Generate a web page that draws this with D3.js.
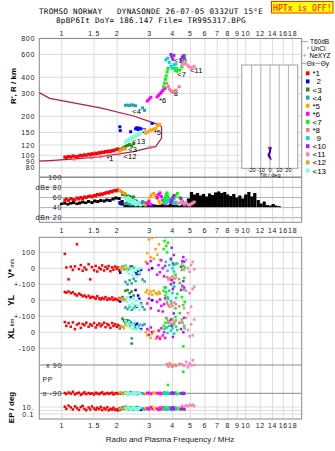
<!DOCTYPE html>
<html>
<head>
<meta charset="utf-8">
<script src="https://cdn.jsdelivr.net/npm/d3@7"></script>
<style>
  body { margin: 0; background: #fff; }
  svg { display: block; }
  text { font-family: "Liberation Sans", Arial, sans-serif; }
</style>
</head>
<body>
<svg id="chart"></svg>
<script>
// ionogram values
const titleLines = [
  "TROMSO NORWAY   DYNASONDE 26-07-05 0332UT 15°E",
  "8pBP6It DoY= 186.147 File= TR995317.BPG",
];
const freqTicks = [1, 1.5, 2, 3, 4, 5, 6, 7, 8, 9, 10, 12, 14, 16, 18];
const heightTicks = [80, 90, 100, 120, 150, 200, 300, 400, 600, 800];
const dbTicks = [100, 80, 60, 40, 20];
const dbTickNames = ["100", "dBe 80", "60", "40", "dBn 20"];
const velTicks = [100, 0, -100, -200, -300, -400, -500];
const velTickNames = ["100", "0", "+-100", "0", "+-100", "0", "-100"];
const tiltTicks = [-20, -10, 0, 10, 20];

const modeNames = ["*1", "2", "<3", "<4", "*5", "*6", "<7", "*8", "9", "<10", "<11", "<12", "<13"];
const modeColors = ["#ff0000", "#0000ff", "#228b22", "#20a8a8", "#ffa500", "#ff00ff", "#00ff00",
  "#f08080", "#00d8d8", "#a020f0", "#ff80c0", "#daa520", "#7fffd4"];
// label anchors [MHz, km]
const modeLabelAt = [[1.75, 95], [2.74, 158], [2.3, 112], [2.42, 219], [3.17, 150], [3.38, 266],
  [4.25, 423], [3.92, 304], [4.08, 465], [4.08, 548], [4.99, 458], [2.17, 98], [2.42, 128]];

// echoes: [MHz, km, dB, V*, YL, XL, PP deg, EP deg]
const mode1 = [
  [1.04, 97, 55, 90, 52, 64, -88, 12], [1.06, 96, 57, 5, 48, 40, -95, 3],
  [1.09, 98, 54, -69, 55, 58, -85, 25], [1.12, 97, 58, 10, 45, 35, -92, 8],
  [1.15, 99, 56, -10, 50, 62, -80, 2], [1.18, 98, 55, 12, 38, 20, -97, 15],
  [1.21, 97, 59, 150, 30, 48, -90, 5], [1.24, 99, 57, -5, 42, 55, -86, 1.5],
  [1.27, 100, 60, 20, 35, 28, -100, 9], [1.30, 99, 58, -15, 25, 52, -92, 20],
  [1.33, 101, 61, 5, 30, 44, -84, 3], [1.36, 100, 60, -8, 20, 60, -95, 1.2],
  [1.40, 102, 62, 25, 28, 35, -88, 7], [1.43, 101, 63, -69, 15, 50, -93, 2],
  [1.46, 103, 61, 8, 22, 42, -90, 14], [1.50, 102, 64, -12, 18, 58, -98, 4],
  [1.53, 104, 63, 15, 10, 30, -86, 1.6], [1.56, 103, 66, -20, 25, 45, -91, 6],
  [1.60, 105, 65, 3, 12, 55, -95, 2.5], [1.63, 104, 67, -6, 5, 38, -89, 11],
  [1.66, 106, 66, 18, 15, 48, -84, 1.3], [1.70, 105, 68, -14, 8, 60, -96, 5],
  [1.73, 107, 69, 9, 20, 32, -92, 2], [1.77, 106, 70, -3, 3, 52, -88, 8],
  [1.80, 108, 69, 14, 12, 44, -94, 1.1], [1.84, 107, 72, -18, 6, 28, -90, 3],
  [1.88, 109, 71, 6, 18, 58, -86, 1.8], [1.91, 108, 73, -9, 2, 40, -97, 6],
  [1.95, 110, 74, 11, 10, 50, -91, 1.4], [1.99, 111, 73, -4, 5, 34, -88, 2.2],
  [2.02, 112, 75, 7, 0, 46, -93, 1], [2.06, 111, 74, -12, 14, 38, -90, 4],
];
const mode2 = [
  [2.07, 166, 50, -15, 5, 25, -88, 4], [2.08, 155, 48, -28, -8, 35, -92, 2],
  [2.37, 152, 52, 10, 20, 60, -85, 7], [2.52, 160, 53, -25, 64, 45, -90, 3],
  [2.56, 163, 51, -40, -40, 54, -95, 9], [2.60, 158, 50, -20, 30, 30, -87, 2],
  [2.64, 162, 46, -35, 10, 50, -92, 5], [2.70, 160, 48, -10, -20, 20, -89, 1.5],
  [3.10, 176, 44, 0, 0, 0, -90, 3],
];
const mode3 = [
  [2.14, 113, 66, 10, 20, 85, -88, 8], [2.18, 115, 68, -5, 5, 70, -92, 3],
  [2.22, 117, 65, 15, 60, 62, -86, 12], [2.28, 119, 63, 0, 64, 75, -95, 5],
  [2.34, 121, 62, -8, 45, 40, -90, 2], [2.40, 118, 60, 12, 55, -70, -93, 9],
  [2.46, 123, 61, 5, 30, 50, -87, 4],
];
const mode4 = [
  [2.22, 243, 48, -85, -45, 75, -90, 5], [2.28, 244, 50, -100, -55, 60, -86, 2],
  [2.34, 242, 47, -75, -40, 70, -94, 8], [2.40, 245, 46, -95, -60, -38, -89, 3],
  [2.46, 243, 49, -65, -50, 45, -92, 1.5], [2.52, 241, 45, -80, -35, 30, -88, 6],
  [2.75, 232, 52, -70, -42, 44, -91, 4], [2.82, 222, 50, -82, -58, 50, -95, 2],
];
const mode5 = [
  [2.86, 148, 45, 41, 50, 0, -92, 5], [2.92, 150, 50, 95, 64, -20, -86, 2],
  [2.98, 154, 55, 180, 40, 10, -95, 8], [3.04, 156, 62, 70, 55, -35, -89, 3],
  [3.10, 157, 66, 190, 35, -10, -93, 12], [3.16, 159, 68, 60, 60, 5, -85, 2],
  [3.24, 161, 64, 120, 45, -40, -90, 6], [3.31, 169, 58, 85, 38, -25, -88, 4],
  [3.38, 171, 52, 150, 52, 12, -94, 1.5], [3.42, 173, 48, 52, 42, -30, -91, 7],
];
const mode6 = [
  [2.92, 262, 48, 30, -20, 20, -90, 4], [2.98, 270, 52, -10, 10, -15, -86, 2],
  [3.05, 280, 46, 45, -50, 30, -94, 8], [3.30, 282, 60, -40, -10, -30, -88, 3],
  [3.36, 290, 66, 20, -65, 10, -92, 1.5], [3.42, 298, 69, -25, 5, -40, -87, 6],
  [3.48, 305, 62, 50, -35, 25, -95, 2], [3.54, 315, 55, 0, -70, -20, -90, 9],
  [3.60, 325, 50, -50, -25, 0, -85, 4], [3.65, 330, 47, 15, 12, -35, -93, 2],
];
const mode7 = [
  [3.58, 338, 50, 120, 60, 40, -90, 5], [3.62, 360, 55, 170, 80, 20, -86, 2],
  [3.66, 385, 60, 195, 30, 60, -94, 8], [3.70, 410, 66, 140, 50, 90, -88, 3],
  [3.74, 440, 69, 100, -20, 30, -92, 1.5], [3.78, 467, 62, 160, 10, 70, -37, 6],
  [4.08, 470, 58, 20, 85, 50, -90, 2], [4.15, 450, 64, -40, -50, 95, -85, 9],
  [4.25, 445, 68, 30, 40, 14, -95, 4], [4.38, 455, 60, -92, -80, 60, -89, 2],
  [4.50, 480, 52, -10, 20, 80, -91, 5], [4.58, 510, 48, 15, -30, -88, 47, 3],
  [4.63, 550, 46, -60, 65, 40, -87, 7], [4.66, 590, 45, 5, -10, 25, -93, 2],
];
const mode8 = [
  [3.73, 359, 50, -55, -10, 85, 95, 3], [3.80, 340, 52, -70, -30, 60, 80, 6],
  [3.86, 322, 55, -60, -40, 70, 100, 2], [3.94, 312, 53, -73, -20, 55, 88, 5],
  [4.00, 309, 50, -52, -35, 80, 78, 2], [4.10, 312, 48, -65, -15, 65, 92, 4],
  [4.18, 318, 51, -58, -25, 75, 85, 3], [4.35, 338, 49, -68, -38, 58, 96, 6],
];
const mode9 = [
  [3.68, 544, 50, 40, 80, 30, -90, 4], [3.76, 560, 54, -15, 20, -5, -86, 2],
  [3.84, 520, 57, 20, 60, 40, -94, 7], [3.92, 487, 55, 52, -5, 10, -88, 3],
  [4.00, 470, 52, 0, 45, 25, -92, 1.5], [4.08, 500, 50, -20, 85, -8, -87, 5],
  [4.18, 505, 48, 30, 15, 35, -95, 2],
];
const mode10 = [
  [3.92, 600, 50, 60, 100, 80, -90, 6], [3.96, 575, 55, 129, 127, 40, -85, 2],
  [4.02, 550, 60, 30, 70, -29, -94, 9], [4.07, 590, 64, 83, 110, 118, -88, 3],
  [4.45, 540, 58, 10, 64, 20, -92, 2], [4.52, 570, 52, 45, 90, 60, -87, 5],
  [4.58, 585, 48, 70, 120, 0, -95, 4], [4.63, 560, 46, 41, 80, 90, -90, 2],
];
const mode11 = [
  [4.50, 500, 52, 30, 80, 60, 95, 20], [4.62, 515, 48, -10, -50, 30, 85, 12],
  [4.74, 505, 50, 52, 60, 90, 110, 30], [4.85, 490, 46, 0, -80, 14, 75, 15],
  [4.95, 480, 45, -21, 44, -25, 100, 40], [5.05, 470, 47, 20, -40, 50, 88, 25],
  [5.15, 478, 49, 40, 70, -19, 120, 50], [5.25, 485, 51, -5, 85, 80, 90, 18],
];
const mode12 = [
  [2.06, 108, 74, 5, 10, 30, -90, 3], [2.10, 110, 72, -10, 5, 40, -85, 5],
  [2.14, 111, 70, 8, 12, 35, -95, 2], [2.18, 113, 68, 0, 0, 25, -92, 4],
  [2.22, 112, 67, -5, 8, 45, -88, 6],
];
const mode13 = [
  [2.22, 126, 58, 10, 15, 70, -88, 6], [2.26, 130, 55, -20, -10, 55, -95, 2],
  [2.30, 128, 60, 5, 20, 40, -82, 12], [2.33, 134, 52, -35, -30, 62, -92, 4],
  [2.36, 132, 57, -10, 5, 30, -97, 1.5], [2.40, 137, 50, 0, -45, 50, -90, 7],
  [2.43, 135, 54, -45, -20, 20, -86, 3], [2.46, 140, 48, -25, 10, 45, -94, 9],
  [2.50, 138, 52, 8, -55, 65, -89, 2], [2.53, 143, 46, -15, -5, 15, -96, 5],
  [2.57, 142, 50, -50, -35, 35, -85, 1.2], [2.60, 146, 47, -5, 0, 25, -91, 6],
  [2.64, 145, 49, -30, -60, 55, -88, 3], [2.68, 149, 45, 0, -25, 12, -93, 8],
];
const modes = [mode1, mode2, mode3, mode4, mode5, mode6, mode7, mode8, mode9, mode10, mode11, mode12, mode13];

// model profile [MHz, km] and its NeXYZ markers
const profile = [[0.75, 306], [0.86, 275], [1.62, 232], [2.46, 201], [3.04, 181], [3.42, 171],
  [3.49, 165], [3.49, 136], [3.24, 116.5], [3.04, 115], [2.46, 106.6], [1.62, 97.5],
  [1.18, 93.7], [0.86, 91], [0.75, 90]];
const neMarkers = [[1.17, 93.6], [1.45, 96], [1.62, 97.5], [1.84, 100], [2.05, 102], [3.04, 115]];

// noise/amplitude spectrum [MHz, low dB, high dB]
const noise = [[1.00, 45, 50], [1.04, 46, 52], [1.08, 44, 49], [1.12, 46, 51], [1.16, 47, 53],
  [1.21, 45, 50], [1.25, 46, 52], [1.30, 48, 54], [1.35, 47, 52], [1.40, 49, 55], [1.46, 47, 53],
  [1.51, 50, 56], [1.57, 49, 55], [1.63, 51, 57], [1.70, 50, 56], [1.76, 52, 58], [1.83, 51, 57],
  [1.90, 54, 60], [1.97, 56, 62], [2.05, 55, 61], [2.13, 44, 55], [2.21, 41, 47], [2.29, 41, 46],
  [2.38, 41, 45], [2.47, 41, 46], [2.57, 41, 44], [2.67, 41, 45], [2.77, 41, 44], [2.88, 41, 46],
  [2.99, 41, 45], [3.10, 41, 47], [3.22, 41, 46], [3.35, 41, 45], [3.48, 41, 47], [3.61, 41, 46],
  [3.75, 41, 45], [3.89, 41, 47], [4.04, 41, 46], [4.20, 41, 45], [4.36, 41, 44], [4.53, 41, 46],
  [4.70, 41, 48], [4.88, 41, 58], [5.07, 41, 71], [5.27, 41, 66], [5.47, 41, 69], [5.68, 41, 64],
  [5.90, 41, 67], [6.13, 41, 62], [6.36, 41, 68], [6.61, 41, 65], [6.86, 41, 70], [7.13, 41, 72],
  [7.40, 41, 69], [7.69, 41, 71], [7.98, 41, 66], [8.29, 41, 63], [8.61, 41, 67], [8.94, 41, 60],
  [9.29, 41, 64], [9.64, 41, 58], [10.0, 41, 66], [10.4, 41, 71], [10.8, 41, 62], [11.2, 41, 69],
  [11.7, 41, 55], [12.1, 41, 48], [12.6, 41, 52], [13.1, 41, 45], [13.6, 41, 44], [14.1, 41, 47],
  [14.6, 41, 44], [15.2, 41, 43]];

// tilt [km, deg]
const thetaX = [[116, -1.8], [110, 0], [100.5, -0.8], [92, 1.1]];
const thetaY = [[116, 1.1], [106.6, 0], [100.5, -1.8], [94.8, 0]];

(function ionogram() {
  const width = 335, height = 451;
  const left = 39.3, right = 301.7;
  const svg = d3.select("#chart").attr("width", width).attr("height", height);

  const x = d3.scaleLog().domain([1, 18]).range([61.7, 292.7]);
  const yH = d3.scaleLog().domain([100, 800]).range([155.3, 38.2]);
  const yDb = d3.scaleLinear().domain([20, 100]).range([217.7, 177.3]);
  const yV = d3.scaleLinear().domain([0, 100]).range([268.3, 252.3]);
  const yPP = d3.scaleLinear().domain([-90, 90]).range([393.3, 365]);
  const yEP = d3.scaleLog().domain([0.1, 10]).range([414, 407]);
  const xTilt = d3.scaleLinear().domain([-30, 30]).range([242.4, 297.6]);

  const tickFont = (s) => s.style("font-size", "7px").style("letter-spacing", "0.7px").style("fill", "#222");

  // title
  svg.selectAll("text.title")
    .data(titleLines)
    .join("text")
    .attr("class", "title")
    .attr("x", 151)
    .attr("y", (d, i) => 14.3 + i * 8.6)
    .attr("text-anchor", "middle")
    .style("font-family", "'DejaVu Sans Mono', monospace")
    .style("font-size", "7.6px")
    .style("letter-spacing", "0.3px")
    .style("white-space", "pre")
    .text((d) => d);

  svg.append("rect").attr("x", 271.5).attr("y", 1.5).attr("width", 61.5).attr("height", 11.5)
    .style("fill", "#ffff00").style("stroke", "#ff3000");
  svg.append("text").attr("x", 302.3).attr("y", 10.5).attr("text-anchor", "middle")
    .style("font-family", "'DejaVu Sans Mono', monospace").style("font-size", "8.1px")
    .style("fill", "#ff0000").text("HPTx is OFF!");

  const defs = svg.append("defs");
  defs.append("clipPath").attr("id", "clipH").append("rect")
    .attr("x", left).attr("y", 38.5).attr("width", right - left).attr("height", 137);
  defs.append("clipPath").attr("id", "clipB").append("rect")
    .attr("x", left).attr("y", 237.3).attr("width", right - left).attr("height", 181.7);

  // ---------- top panel grid ----------
  const top = svg.append("g");
  top.selectAll("line.vg").data(freqTicks).join("line")
    .attr("x1", (d) => x(d)).attr("x2", (d) => x(d)).attr("y1", 38.5).attr("y2", 222.3)
    .style("stroke", "#dcdcdc");
  top.selectAll("line.hg").data(heightTicks).join("line")
    .attr("x1", left).attr("x2", right).attr("y1", (d) => yH(d)).attr("y2", (d) => yH(d))
    .style("stroke", "#dcdcdc");
  top.selectAll("line.dg").data(dbTicks).join("line")
    .attr("x1", left).attr("x2", right).attr("y1", (d) => yDb(d)).attr("y2", (d) => yDb(d))
    .style("stroke", (d) => (d === 20 ? "#a8a8e0" : d === 100 ? "#8c8c8c" : "#b4b4b4"))
    .style("stroke-width", (d) => (d === 100 ? 1.5 : 1));
  top.append("rect").attr("x", left).attr("y", 38.5).attr("width", right - left).attr("height", 183.8)
    .style("fill", "none").style("stroke", "#8a8a8a");

  top.selectAll("text.ht").data(heightTicks).join("text")
    .attr("x", 35).attr("y", (d) => yH(d) + 2.5).attr("text-anchor", "end").call(tickFont)
    .text((d) => d);
  top.selectAll("text.db").data(dbTicks).join("text")
    .attr("x", 62).attr("y", (d, i) => yDb(d) + 2.5).attr("text-anchor", "end").call(tickFont)
    .text((d, i) => dbTickNames[i]);
  top.append("text").attr("transform", "translate(16,86) rotate(-90)").attr("text-anchor", "middle")
    .style("font-size", "8px").style("font-weight", "bold").text("R', R / km");

  [33, 230.7, 425.5].forEach((yy) => {
    svg.append("g").selectAll("text").data(freqTicks).join("text")
      .attr("x", (d) => x(d)).attr("y", yy + 2.5).attr("text-anchor", "middle").call(tickFont)
      .text((d) => d);
  });

  // tilt inset
  const inset = svg.append("g");
  inset.append("rect").attr("x", 241.7).attr("y", 65).attr("width", 56).attr("height", 103.3)
    .style("fill", "#fff").style("stroke", "#a0a0a8");
  inset.selectAll("line").data(tiltTicks).join("line")
    .attr("x1", (d) => xTilt(d)).attr("x2", (d) => xTilt(d)).attr("y1", 65).attr("y2", 168.3)
    .style("stroke", "#b0b0b8");
  inset.selectAll("text").data(tiltTicks).join("text")
    .attr("x", (d) => xTilt(d)).attr("y", 172.3).attr("text-anchor", "middle")
    .style("font-size", "5.5px").text((d) => d);
  inset.append("text").attr("x", 270).attr("y", 177.2).attr("text-anchor", "middle")
    .style("font-size", "5.5px").text("Tilt / deg");
  const tiltLine = d3.line().x((d) => xTilt(d[1])).y((d) => yH(d[0]));
  inset.append("path").attr("d", tiltLine(thetaX)).style("fill", "none").style("stroke", "#ff0000").style("stroke-width", 1.6);
  inset.append("path").attr("d", tiltLine(thetaY)).style("fill", "none").style("stroke", "#0000ff").style("stroke-width", 1.6);

  // profile
  const hPanel = svg.append("g").attr("clip-path", "url(#clipH)");
  const line = d3.line().x((d) => x(d[0])).y((d) => yH(d[1]));
  hPanel.append("path").attr("d", line(profile))
    .style("fill", "none").style("stroke", "#b0203c").style("stroke-width", 1.2);
  hPanel.selectAll("rect.ne").data(neMarkers).join("rect")
    .attr("x", (d) => x(d[0]) - 1.5).attr("y", (d) => yH(d[1]) - 1.5).attr("width", 3).attr("height", 3)
    .style("fill", "#e8709a");

  // mode labels sit under the echoes, as in the original plot
  hPanel.selectAll("text.ml").data(modeLabelAt).join("text")
    .attr("x", (d) => x(d[0])).attr("y", (d) => yH(d[1]) + 3)
    .style("font-size", "7.5px").text((d, i) => modeNames[i]);
  modes.forEach((m, i) => {
    hPanel.append("g").selectAll("rect").data(m).join("rect")
      .attr("x", (d) => x(d[0]) - 1.5).attr("y", (d) => yH(d[1]) - 1.5)
      .attr("width", 3).attr("height", 3).style("fill", modeColors[i]);
  });

  // dB panel
  svg.append("g").selectAll("rect").data(noise).join("rect")
    .attr("x", (d) => x(d[0]) - 1.6).attr("y", (d) => yDb(d[2]))
    .attr("width", 3.2).attr("height", (d) => yDb(d[1]) - yDb(d[2])).style("fill", "#000");
  modes.forEach((m, i) => {
    svg.append("g").selectAll("rect").data(m).join("rect")
      .attr("x", (d) => x(d[0]) - 1.5).attr("y", (d) => yDb(d[2]) - 1.5)
      .attr("width", 3).attr("height", 3).style("fill", modeColors[i]);
  });

  // legend
  const leg = svg.append("g");
  leg.append("line").attr("x1", 302).attr("x2", 308).attr("y1", 41.5).attr("y2", 41.5).style("stroke", "#aaa");
  leg.append("text").attr("x", 310).attr("y", 44).style("font-size", "6.5px").text("T60dB");
  leg.append("rect").attr("x", 307.5).attr("y", 47.5).attr("width", 1).attr("height", 1).style("fill", "#000");
  leg.append("text").attr("x", 311).attr("y", 50.5).style("font-size", "6.5px").text("UnCl");
  leg.append("text").attr("x", 302.5).attr("y", 58.3).style("font-size", "7.5px").style("fill", "#e8709a").text("+");
  leg.append("text").attr("x", 309.5).attr("y", 58).style("font-size", "6.5px").text("NeXYZ");
  leg.append("line").attr("x1", 302).attr("x2", 306.5).attr("y1", 63.3).attr("y2", 63.3).style("stroke", "#f08080");
  leg.append("text").attr("x", 306.8).attr("y", 65.8).style("font-size", "6.5px").text("Θx");
  leg.append("line").attr("x1", 315.5).attr("x2", 320.5).attr("y1", 63.3).attr("y2", 63.3).style("stroke", "#8080ff");
  leg.append("text").attr("x", 320.8).attr("y", 65.8).style("font-size", "6.5px").text("Θy");
  const legItem = leg.selectAll("g.item").data(modeNames).join("g")
    .attr("transform", (d, i) => `translate(0, ${73.3 + i * 8.1})`);
  legItem.append("rect").attr("x", 306).attr("y", -2).attr("width", 3.5).attr("height", 4)
    .style("fill", (d, i) => modeColors[i]);
  legItem.append("text").attr("x", (d) => (/^\d/.test(d) ? 316.5 : 312.5)).attr("y", 3)
    .style("font-size", "8px").text((d) => d);

  // ---------- bottom panel ----------
  const bot = svg.append("g");
  bot.selectAll("line.vg").data(freqTicks).join("line")
    .attr("x1", (d) => x(d)).attr("x2", (d) => x(d)).attr("y1", 237.3).attr("y2", 419)
    .style("stroke", "#dcdcdc");
  bot.selectAll("line.hg").data(velTicks).join("line")
    .attr("x1", left).attr("x2", right).attr("y1", (d) => yV(d)).attr("y2", (d) => yV(d))
    .style("stroke", "#dcdcdc");
  bot.selectAll("line.pp").data([90, -90]).join("line")
    .attr("x1", left).attr("x2", right).attr("y1", (d) => yPP(d)).attr("y2", (d) => yPP(d))
    .style("stroke", "#8a8a8a");
  bot.selectAll("line.ep").data([10, 1, 0.1]).join("line")
    .attr("x1", left).attr("x2", right).attr("y1", (d) => yEP(d)).attr("y2", (d) => yEP(d))
    .style("stroke", "#dcdcdc");
  bot.append("rect").attr("x", left).attr("y", 237.3).attr("width", right - left).attr("height", 181.7)
    .style("fill", "none").style("stroke", "#8a8a8a");

  bot.selectAll("text.vt").data(velTicks).join("text")
    .attr("x", 35.5).attr("y", (d) => yV(d) + 2.5).attr("text-anchor", "end").call(tickFont)
    .text((d, i) => velTickNames[i]);
  bot.append("text").attr("x", 62).attr("y", yPP(90) + 2.5).attr("text-anchor", "end").call(tickFont).text("x 90");
  bot.append("text").attr("x", 62).attr("y", yPP(-90) + 2.5).attr("text-anchor", "end").call(tickFont).text("o -90");
  bot.append("text").attr("x", 42.5).attr("y", 382).call(tickFont).text("PP");
  bot.append("text").attr("x", 34).attr("y", yEP(10) + 2.5).attr("text-anchor", "end").call(tickFont).text("10.");
  bot.append("text").attr("x", 34).attr("y", yEP(0.1) + 2.5).attr("text-anchor", "end").call(tickFont).text("0.1");

  const vLab = bot.append("text").attr("transform", "translate(14,278) rotate(-90)")
    .style("font-size", "8.5px").style("font-weight", "bold").text("V*");
  vLab.append("tspan").style("font-size", "5.5px").style("font-weight", "normal").text(" m/s");
  bot.append("text").attr("transform", "translate(14,300.5) rotate(-90)").attr("text-anchor", "middle")
    .style("font-size", "8.5px").style("font-weight", "bold").text("YL");
  const xLab = bot.append("text").attr("transform", "translate(14,339) rotate(-90)")
    .style("font-size", "8.5px").style("font-weight", "bold").text("XL");
  xLab.append("tspan").style("font-size", "6px").style("font-weight", "normal").text("  km");
  bot.append("text").attr("transform", "translate(14,407.5) rotate(-90)").attr("text-anchor", "middle")
    .style("font-size", "8px").style("font-weight", "bold").text("EP / deg");

  const bPanel = svg.append("g").attr("clip-path", "url(#clipB)");
  const fields = [
    (d) => yV(d[3]),
    (d) => yV(d[4] - 200),
    (d) => yV(d[5] - 400),
    (d) => yPP(d[6]),
    (d) => yEP(d[7]),
  ];
  modes.forEach((m, i) => {
    const g = bPanel.append("g").style("fill", modeColors[i]);
    fields.forEach((fy) => {
      g.append("g").selectAll("rect").data(m).join("rect")
        .attr("x", (d) => x(d[0]) - 1.25).attr("y", (d) => fy(d) - 1.25)
        .attr("width", 2.5).attr("height", 2.5);
    });
  });

  svg.append("text").attr("x", 170).attr("y", 442).attr("text-anchor", "middle")
    .style("font-size", "8px").style("fill", "#222").text("Radio and Plasma Frequency / MHz");
})();
</script>
</body>
</html>
